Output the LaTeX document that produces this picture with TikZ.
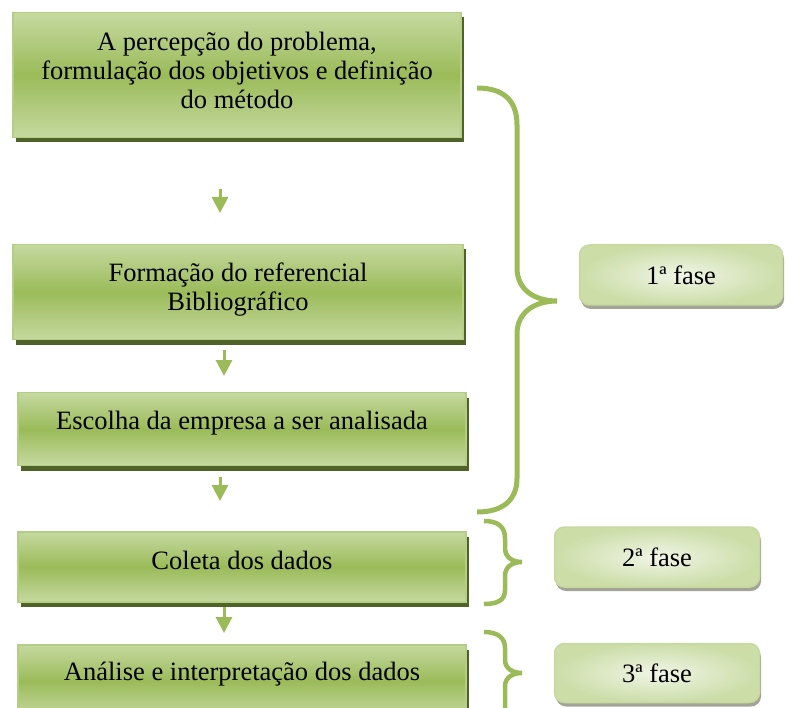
\documentclass[tikz,border=0pt]{standalone}
\usepackage{fontspec}
\setmainfont{Liberation Serif}
\usetikzlibrary{shadows,arrows.meta}
\definecolor{gLight}{HTML}{C5D9A0}
\definecolor{gMid}{HTML}{9BBB59}
\definecolor{gDark}{HTML}{4F6228}
\definecolor{gBorder}{HTML}{B5CE85}
\definecolor{pLight}{HTML}{F0F5E6}
\definecolor{pDark}{HTML}{CCDDA8}
\definecolor{pShadow}{HTML}{A3A396}
\begin{document}
\begin{tikzpicture}[x=1pt,y=-1pt,
  greenbox/.style={rectangle, draw=gBorder, line width=1.5pt,
    top color=gLight, bottom color=gLight, middle color=gMid,
    inner sep=0pt,
    drop shadow={shadow xshift=3pt, shadow yshift=-5pt, fill=gDark, opacity=1}},
  boxtext/.style={align=center, font=\fontsize{26.5}{29}\selectfont, inner sep=0pt},
  phasebox/.style={rectangle, rounded corners=10pt, draw=gLight, line width=1.5pt,
    inner color=pLight, outer color=pDark,
    font=\fontsize{26.5}{29}\selectfont, inner sep=0pt,
    drop shadow={shadow xshift=1.5pt, shadow yshift=-4pt, fill=pShadow, opacity=1}},
  flowarrow/.style={draw=gMid, line width=3pt, -{Triangle[width=16pt,length=16pt]}},
  bracestyle/.style={draw=gMid, line width=5pt}
]
\useasboundingbox (0,0) rectangle (789,708);
\clip (0,0) rectangle (789,708);

% main boxes
\node[greenbox, minimum width=448pt, minimum height=125pt] (b1) at (237,75) {};
\node[greenbox, minimum width=450pt, minimum height=95pt] (b2) at (238,292) {};
\node[greenbox, minimum width=448pt, minimum height=73pt] (b3) at (242,429) {};
\node[greenbox, minimum width=448pt, minimum height=70pt] (b4) at (242,567) {};
\node[greenbox, minimum width=448pt, minimum height=72pt] (b5) at (242,681) {};

\node[boxtext] (t1) at ([yshift=5pt]b1.center)
  {A percepção do problema,\\formulação dos objetivos e definição\\do método};
\node[boxtext] (t2) at ([yshift=2pt]b2.center) {Formação do referencial\\Bibliográfico};
\node[boxtext] (t3) at ([yshift=6pt]b3.center) {Escolha da empresa a ser analisada};
\node[boxtext] (t4) at ([yshift=7pt]b4.center) {Coleta dos dados};
\node[boxtext] (t5) at ([yshift=7pt]b5.center) {Análise e interpretação dos dados};

% phase boxes
\node[phasebox, minimum width=203pt, minimum height=60pt] (p1) at (681,275) {1ª fase};
\node[phasebox, minimum width=205pt, minimum height=60pt] (p2) at (657,557) {2ª fase};
\node[phasebox, minimum width=205pt, minimum height=59pt] (p3) at (657,673) {3ª fase};

% arrows
\coordinate (a1s) at (220,189); \coordinate (a1e) at (220,213);
\coordinate (a2s) at (224,350); \coordinate (a2e) at (224,376);
\coordinate (a3s) at (220,477); \coordinate (a3e) at (220,501);
\coordinate (a4s) at (224,607); \coordinate (a4e) at (224,633);
\draw[flowarrow] (a1s) -- (a1e);
\draw[flowarrow] (a2s) -- (a2e);
\draw[flowarrow] (a3s) -- (a3e);
\draw[flowarrow] (a4s) -- (a4e);

% braces
\draw[bracestyle] (477,88) .. controls (503,88) and (517,100) .. (517,125)
  -- (517,268) .. controls (517,290) and (535,301) .. (557,301)
  .. controls (535,301) and (517,312) .. (517,334)
  -- (517,478) .. controls (517,500) and (503,512) .. (477,512);
\draw[bracestyle, line width=4.5pt] (484,521) .. controls (498,521) and (505,527) .. (505,538)
  -- (505,548) .. controls (505,557) and (512,562) .. (522,562)
  .. controls (512,562) and (505,567) .. (505,576)
  -- (505,590) .. controls (505,600) and (498,604) .. (484,604);
\draw[bracestyle, line width=4.5pt] (484,632) .. controls (498,632) and (505,638) .. (505,648)
  -- (505,660) .. controls (505,668) and (512,673) .. (522,673)
  .. controls (512,673) and (505,678) .. (505,686) -- (505,720);
\end{tikzpicture}
\end{document}
